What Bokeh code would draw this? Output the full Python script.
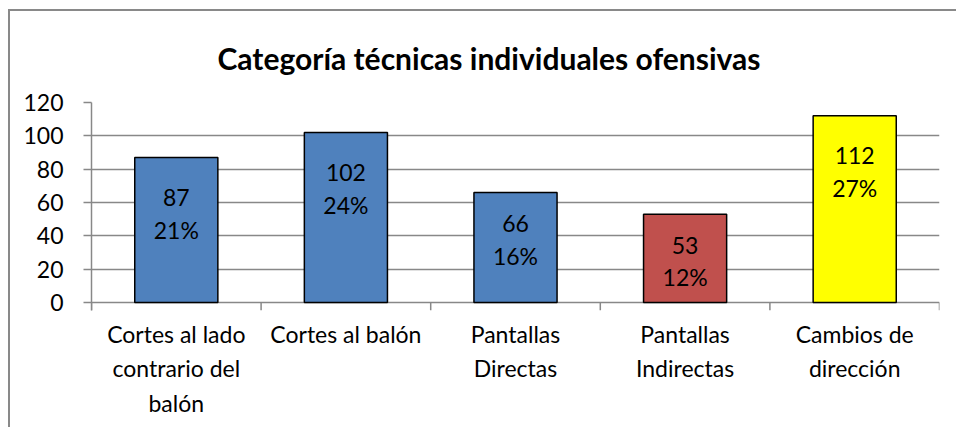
from bokeh.plotting import figure
from bokeh.models import ColumnDataSource, FixedTicker
from bokeh.core.properties import value
from bokeh.embed import file_html
from bokeh.resources import INLINE

categories = ["Cortes al lado\ncontrario del\nbalón", "Cortes al balón",
              "Pantallas\nDirectas", "Pantallas\nIndirectas", "Cambios de\ndirección"]
counts = [87, 102, 66, 53, 112]
percent_labels = ["21%", "24%", "16%", "12%", "27%"]
y_ticks = [0, 20, 40, 60, 80, 100, 120]
title_text = "Categoría técnicas individuales ofensivas"

bar_colors = ["#4F81BD", "#4F81BD", "#4F81BD", "#C0504D", "#FFFF00"]
label_offsets = [40, 40, 31, 31, 40]

FONT = "Lato"
FS = "23px"
GREY = "#888888"
W, H = 948, 418
Y_MAX = 120
Y_TICK_EXT = -4.77   # room below 0 for the category boundary tick marks

src = ColumnDataSource(dict(cat=categories, count=counts,
                            count_txt=[str(c) for c in counts],
                            pct=percent_labels, color=bar_colors,
                            off1=label_offsets,
                            off2=[o + 32 for o in label_offsets]))

p = figure(x_range=categories, y_range=(Y_TICK_EXT, Y_MAX), width=W, height=H,
           output_backend="svg", toolbar_location=None,
           min_border_left=81, min_border_right=19,
           min_border_top=90, min_border_bottom=119)
p.outline_line_color = None
p.background_fill_color = "white"
p.border_fill_color = "white"
p.styles = {"border-left": "2px solid #898989", "border-top": "2px solid #898989",
            "margin-left": "8px", "margin-top": "9px"}

p.title.text = title_text
p.title.align = "left"
p.title.text_font = FONT
p.title.text_font_style = "bold"
p.title.text_font_size = "30px"
p.title.text_color = "black"
p.title.offset = 126
p.title.standoff = 53

p.xgrid.visible = False
p.ygrid.grid_line_color = GREY
p.ygrid.grid_line_width = 1.5
p.ygrid.ticker = FixedTicker(ticks=y_ticks)

# category boundary tick marks (below the zero line)
edges = list(range(len(categories) + 1))
p.segment(x0=edges, y0=[0] * len(edges), x1=edges, y1=[Y_TICK_EXT] * len(edges),
          line_color=GREY, line_width=1.5)

p.vbar(x="cat", top="count", width=0.49, source=src,
       fill_color="color", line_color="black", line_width=1.5)

p.text(x="cat", y="count", text="count_txt", y_offset="off1", source=src,
       text_align="center", text_baseline="middle",
       text_font=value(FONT), text_font_size=FS, text_color="black")
p.text(x="cat", y="count", text="pct", y_offset="off2", source=src,
       text_align="center", text_baseline="middle",
       text_font=value(FONT), text_font_size=FS, text_color="black")

ya = p.yaxis[0]
ya.ticker = FixedTicker(ticks=y_ticks)
ya.axis_line_color = GREY
ya.axis_line_width = 1.5
ya.major_tick_line_color = GREY
ya.major_tick_line_width = 1.5
ya.major_tick_out = 8
ya.major_tick_in = 0
ya.minor_tick_line_color = None
ya.major_label_standoff = 20
ya.major_label_text_font = FONT
ya.major_label_text_font_size = FS
ya.major_label_text_color = "black"

xa = p.xaxis[0]
xa.axis_line_color = None
xa.major_tick_line_color = None
xa.minor_tick_line_color = None
xa.major_tick_out = 0
xa.major_tick_in = 0
xa.major_label_standoff = 9
xa.major_label_text_font = FONT
xa.major_label_text_font_size = FS
xa.major_label_text_color = "black"
xa.major_label_text_line_height = 1.24
xa.major_label_orientation = "horizontal"

open("out.html", "w").write(file_html(p, INLINE))
